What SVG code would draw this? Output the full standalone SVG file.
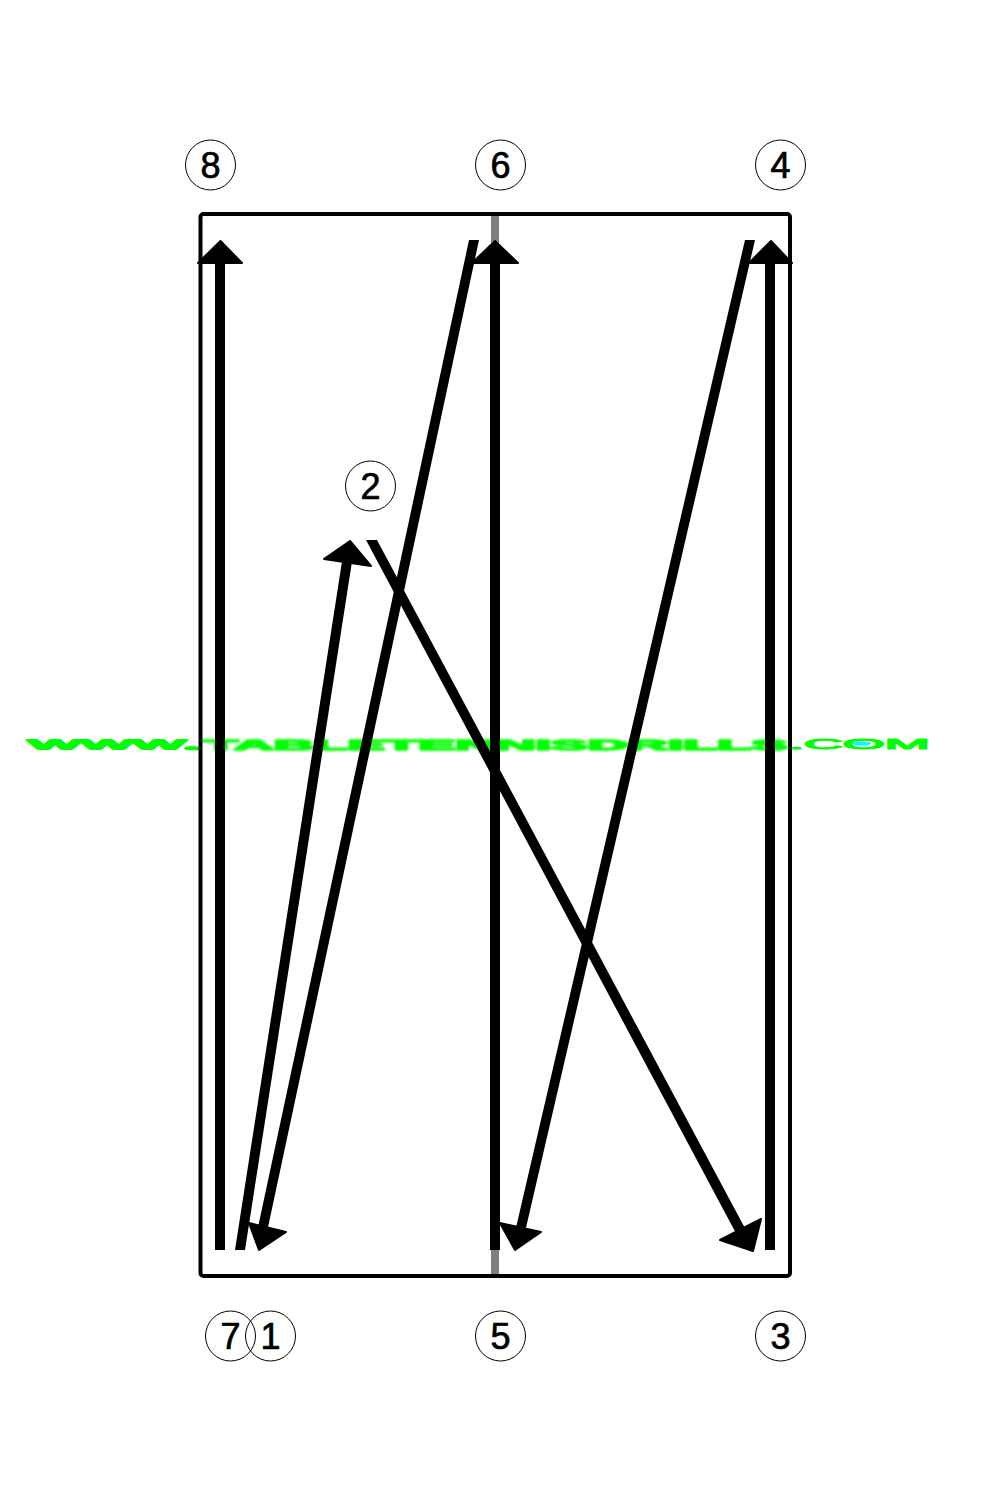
<svg xmlns="http://www.w3.org/2000/svg" width="1000" height="1500" viewBox="0 0 1000 1500">
<style>
.n circle{fill:#fff;fill-opacity:0;stroke:#000;stroke-width:1}
.n text{font-family:"Liberation Sans",Arial,sans-serif;font-size:36px;text-anchor:middle;fill:#000;stroke:#000;stroke-width:.7}
.c line{stroke:#000;stroke-width:10}
.c polygon{fill:#000;stroke:#000;stroke-width:2;stroke-linejoin:round}
.c polygon.s{stroke:none}
.w{font-family:"Liberation Sans",Arial,sans-serif;fill:#0f0;stroke:#0f0;stroke-linejoin:round;stroke-linecap:round;vector-effect:non-scaling-stroke}
</style>
<defs><filter id="b" x="-5%" y="-50%" width="110%" height="200%"><feGaussianBlur stdDeviation="1.100"/></filter></defs>
<g id="watermark">
<text class="w" transform="translate(29,748.500) scale(4.400,1)" font-size="12.500" stroke-width="6">WWW<tspan stroke-width="2.500">.</tspan></text>
<text class="w" x="204" y="749.500" font-size="15" font-weight="bold" textLength="584" lengthAdjust="spacingAndGlyphs" stroke-width="1.500" filter="url(#b)">TABLETENNISDRILLS</text>
<text class="w" transform="translate(789,749) scale(3.850,1)" font-size="14" stroke-width="3">.COM</text>
<ellipse cx="862" cy="743.500" rx="9.500" ry="2" fill="#0ff"/>
</g>
<g id="table">
<rect x="491" y="216" width="8" height="1058" fill="#808080"/>
<rect x="200.500" y="214" width="589.500" height="1062" rx="3" fill="none" stroke="#000" stroke-width="4"/>
</g>
<g id="connectors" class="c">
<line x1="220" y1="1250" x2="220" y2="255"/>
<polygon points="198,263 220.500,241 242,263"/>
<polygon class="s" points="235,1250 245,1250 353,555 343,555"/>
<polygon points="324,559 350,541 371,566"/>
<polygon class="s" points="366,540 377,540 747,1232 738,1237"/>
<polygon points="720,1240 761,1219 753,1251"/>
<line x1="770" y1="1250" x2="770" y2="255"/>
<polygon points="749,263 771,241 792,263"/>
<polygon class="s" points="745,240 755,240 525,1232 515,1232"/>
<polygon points="500,1223 541,1232 515,1250"/>
<line x1="495" y1="1250" x2="495" y2="255"/>
<polygon points="472,263 495,241 518,263"/>
<polygon class="s" points="469,240 479,240 267,1232 257,1232"/>
<polygon points="249,1223 286,1232 259,1250"/>
</g>
<g id="n8" class="n"><circle cx="210.500" cy="165" r="25"/><text x="210.500" y="178">8</text></g>
<g id="n6" class="n"><circle cx="500.500" cy="165" r="25"/><text x="500.500" y="178">6</text></g>
<g id="n4" class="n"><circle cx="780.500" cy="165" r="25"/><text x="780.500" y="178">4</text></g>
<g id="n2" class="n"><circle cx="370.500" cy="486" r="25"/><text x="370.500" y="499">2</text></g>
<g id="n7" class="n"><circle cx="230.500" cy="1336" r="25"/><text x="230.500" y="1349">7</text></g>
<g id="n1" class="n"><circle cx="270.500" cy="1336" r="25"/><text x="270.500" y="1349">1</text></g>
<g id="n5" class="n"><circle cx="500.500" cy="1336" r="25"/><text x="500.500" y="1349">5</text></g>
<g id="n3" class="n"><circle cx="780.500" cy="1336" r="25"/><text x="780.500" y="1349">3</text></g>
</svg>
